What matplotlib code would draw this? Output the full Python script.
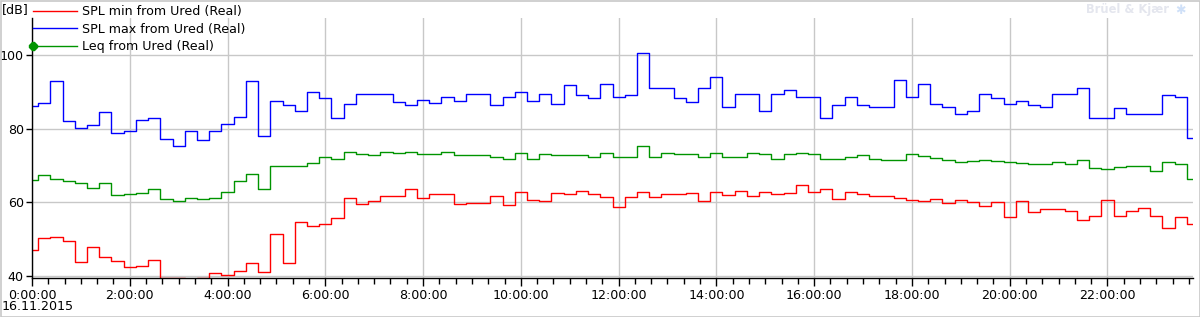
import numpy as np
import matplotlib
matplotlib.use("Agg")
import matplotlib.pyplot as plt
from matplotlib.legend_handler import HandlerLine2D
from matplotlib.patches import Rectangle
from matplotlib.ticker import MultipleLocator, FuncFormatter

# 15 minute intervals, 16.11.2015, hours from midnight
hours = np.arange(96) * 0.25

spl_max = [86.2, 86.9, 92.8, 82.2, 80.3, 80.9, 84.5, 78.7, 79.3, 82.3, 82.8, 77.1,
           75.2, 79.3, 76.9, 79.3, 81.2, 83.1, 92.8, 77.9, 87.4, 86.3, 84.9, 90.0,
           88.2, 83.0, 86.6, 89.5, 89.4, 89.4, 87.2, 86.3, 87.9, 86.9, 88.7, 87.6,
           89.5, 89.5, 86.3, 88.5, 89.8, 87.6, 89.4, 86.6, 91.8, 89.0, 88.2, 92.1,
           88.5, 89.1, 100.4, 90.9, 90.9, 88.2, 87.1, 90.9, 93.9, 85.8, 89.4, 89.5,
           84.9, 89.5, 90.6, 88.7, 88.7, 83.0, 86.3, 88.5, 86.3, 85.8, 86.0, 93.1,
           88.5, 92.2, 86.8, 86.0, 84.1, 84.9, 89.4, 88.2, 86.6, 87.4, 86.3, 85.8,
           89.4, 89.4, 90.9, 83.0, 82.8, 85.5, 83.9, 84.1, 83.9, 89.0, 88.7, 77.4]

leq = [66.0, 67.3, 66.3, 65.7, 65.2, 63.8, 65.2, 61.9, 62.2, 62.5, 63.6, 60.8,
       60.5, 61.3, 61.0, 61.3, 62.7, 65.7, 67.6, 63.6, 70.0, 69.9, 69.8, 70.6,
       72.3, 71.8, 73.8, 73.0, 72.8, 73.8, 73.3, 73.6, 73.0, 73.0, 73.6, 72.8,
       72.8, 72.8, 72.2, 71.9, 73.3, 71.9, 73.0, 72.8, 72.8, 72.8, 72.3, 73.5,
       72.2, 72.2, 75.2, 72.2, 73.5, 73.0, 73.0, 72.2, 73.3, 72.2, 72.2, 73.5,
       73.0, 71.9, 73.0, 73.5, 73.2, 71.9, 71.7, 72.2, 72.8, 71.9, 71.4, 71.4,
       73.0, 72.5, 72.0, 71.4, 70.9, 71.1, 71.4, 71.1, 70.9, 70.6, 70.3, 70.3,
       70.9, 70.3, 71.4, 69.2, 69.0, 69.7, 70.0, 70.0, 68.4, 70.9, 70.3, 66.3]

spl_min = [47.1, 50.3, 50.7, 49.5, 43.8, 47.8, 45.3, 44.1, 42.4, 42.7, 44.3, 39.6,
           39.6, 38.5, 39.6, 40.8, 40.3, 41.4, 43.5, 41.1, 51.4, 43.5, 54.6, 53.5,
           54.1, 55.7, 61.1, 59.6, 60.3, 61.7, 61.7, 63.6, 61.1, 62.2, 62.2, 59.6,
           59.8, 59.8, 61.7, 59.2, 62.7, 60.6, 60.3, 62.5, 62.2, 63.0, 62.2, 61.4,
           58.7, 61.4, 62.7, 61.4, 62.2, 62.2, 62.5, 60.3, 62.7, 61.9, 63.0, 61.7,
           62.7, 62.2, 62.5, 64.7, 62.7, 63.6, 60.8, 62.7, 62.2, 61.7, 61.7, 61.1,
           60.6, 60.3, 60.8, 59.8, 60.6, 60.0, 58.9, 60.0, 56.0, 60.3, 57.3, 58.1,
           58.1, 57.6, 55.2, 56.2, 60.6, 56.2, 57.6, 58.4, 56.2, 53.0, 56.0, 54.1]

labels = ["SPL min from Ured (Real)", "SPL max from Ured (Real)", "Leq from Ured (Real)"]
colors = ["#ff0000", "#0000ff", "#009400"]

W, H = 1200, 317
fs = 9.1
fig = plt.figure(figsize=(W / 100, H / 100), dpi=100)
ax = fig.add_axes([32 / W, 1 - 278 / H, (1193 - 32) / W, (278 - 18) / H])

l_min, = ax.step(hours, spl_min, where="mid", color=colors[0], lw=1.0)
l_max, = ax.step(hours, spl_max, where="mid", color=colors[1], lw=1.0)
l_leq, = ax.step(hours, leq, where="mid", color=colors[2], lw=1.0)

ax.set_xlim(0, 23.75)
ax.set_ylim(39.5, 110)

ax.xaxis.set_major_locator(MultipleLocator(2))
ax.xaxis.set_minor_locator(MultipleLocator(1 / 3))
ax.xaxis.set_major_formatter(FuncFormatter(lambda v, p: "%d:00:00" % round(v)))
ax.set_yticks([40, 60, 80, 100])

ax.grid(True, which="major", color="#c8c8c8", lw=1.0)
ax.set_axisbelow(True)
for s in ["top", "right"]:
    ax.spines[s].set_visible(False)
for s in ["left", "bottom"]:
    ax.spines[s].set_color("black")
    ax.spines[s].set_linewidth(1.0)
ax.tick_params(axis="both", which="major", direction="out", length=6, width=1,
               labelsize=fs, colors="black", pad=2)
ax.tick_params(axis="x", which="minor", direction="out", length=4, width=1)
ax.tick_params(axis="y", which="major", length=4, pad=2)


class StartMarker(HandlerLine2D):
    # put the legend marker at the left end of the line
    def create_artists(self, legend, orig_handle, xdescent, ydescent, width,
                       height, fontsize, trans):
        arts = super().create_artists(legend, orig_handle, xdescent, ydescent,
                                      width, height, fontsize, trans)
        arts[0].set_markevery([0])
        return arts


leq_handle = plt.Line2D([], [], color=colors[2], lw=1.0, marker="8",
                        markersize=5.5, markerfacecolor=colors[2],
                        markeredgecolor=colors[2])
leg = fig.legend([l_min, l_max, leq_handle], labels,
                 loc="upper left", bbox_to_anchor=(33 / W, 1 - 5 / H),
                 frameon=False, fontsize=fs, handlelength=3.5,
                 handletextpad=0.4, labelspacing=0.36, borderaxespad=0,
                 borderpad=0, numpoints=1,
                 handler_map={leq_handle: StartMarker(numpoints=1)})

fig.text(2 / W, 1 - 10 / H, "[dB]", fontsize=fs, va="center", ha="left")
fig.text(2 / W, 1 - 307 / H, "16.11.2015", fontsize=fs, va="center", ha="left")
fig.text(1127 / W, 1 - 10 / H, "Brüel & Kjær", fontsize=8.3, fontweight="bold",
         color="#e4e6ee", va="center", ha="center")
fig.text(1180 / W, 1 - 10 / H, "✱", fontsize=9, color="#cfe0f8",
         va="center", ha="center")

fig.add_artist(Rectangle((0.5 / W, 0.5 / H), 1 - 1 / W, 1 - 1 / H,
                         transform=fig.transFigure, fill=False,
                         edgecolor="#c8c8c8", lw=1.2))

fig.savefig("out.png", dpi=100)
